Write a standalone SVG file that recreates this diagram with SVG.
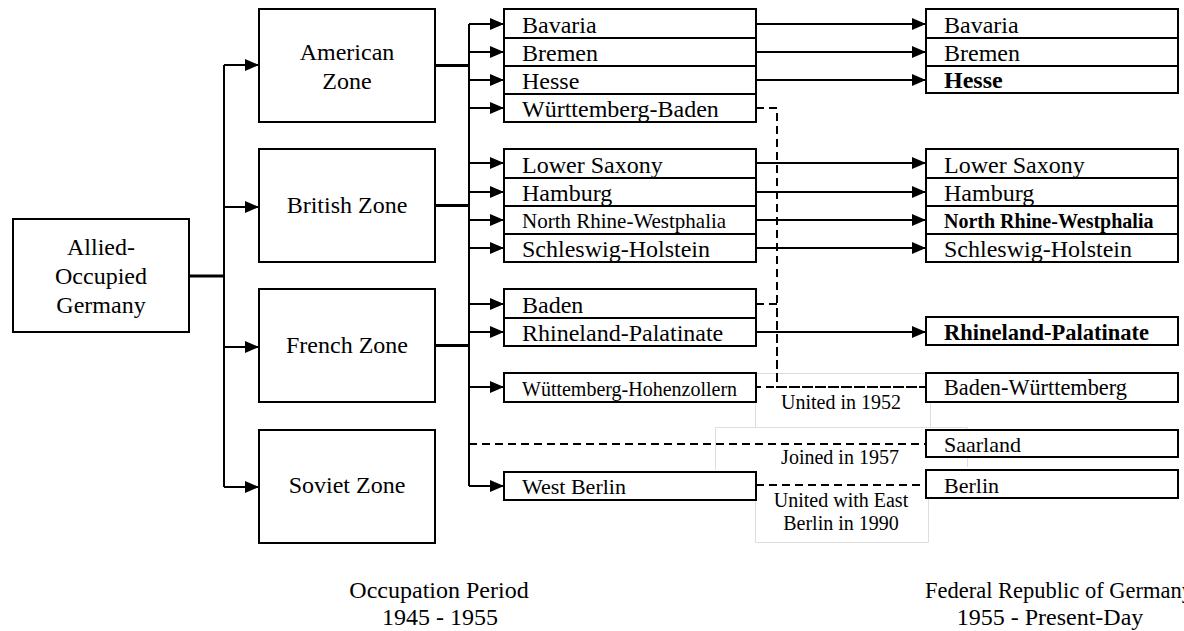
<svg xmlns="http://www.w3.org/2000/svg" width="1184" height="631" viewBox="0 0 1184 631">
<style>
text{font-family:"Liberation Serif","Times New Roman",serif;fill:#000}
.box{fill:#fff;stroke:#000;stroke-width:2}
.lbl{fill:none;stroke:#dedede;stroke-width:1}
.z{font-size:24px;text-anchor:middle}
.s{font-size:24px}
.c{stroke:#000;stroke-width:2;fill:none}
.t{stroke:#000;stroke-width:3;fill:none}
.d{stroke:#000;stroke-width:2;fill:none;stroke-dasharray:8 5}
.a{marker-end:url(#ah)}
.n{font-size:20px;text-anchor:middle}
.f{font-size:24px;text-anchor:middle}
</style>
<defs>
<marker id="ah" markerUnits="userSpaceOnUse" markerWidth="14" markerHeight="12" refX="14" refY="6" orient="auto">
<path d="M0,0 L14,6 L0,12 z" fill="#000"/>
</marker>
</defs>
<rect width="1184" height="631" fill="#fff"/>

<g id="labels">
<path class="lbl" d="M755.5,373.5 H930.5 V427.5 M755.5,402 V427.5"/>
<path class="lbl" d="M715.5,470 V427.5 H967.5 V467"/>
<path class="lbl" d="M755.5,500 V542.5 H928.5 V470"/>
<text class="n" x="841" y="409">United in 1952</text>
<text class="n" x="840" y="464">Joined in 1957</text>
<text class="n" x="841" y="507">United with East</text>
<text class="n" x="841" y="530">Berlin in 1990</text>
</g>

<g id="connectors">
<path class="t" d="M189,276 H224"/>
<path class="c" d="M224,65 V487"/>
<path class="c a" d="M224,65 H259"/>
<path class="c a" d="M224,207 H259"/>
<path class="c a" d="M224,347 H259"/>
<path class="c a" d="M224,487 H259"/>
<path class="t" d="M435,65.5 H469 M435,205.5 H469 M435,345.5 H469"/>
<path class="c" d="M469,24 V486"/>
<path class="c a" d="M469,24 H504"/>
<path class="c a" d="M469,52 H504"/>
<path class="c a" d="M469,80 H504"/>
<path class="c a" d="M469,108 H504"/>
<path class="c a" d="M469,163 H504"/>
<path class="c a" d="M469,192 H504"/>
<path class="c a" d="M469,220 H504"/>
<path class="c a" d="M469,248 H504"/>
<path class="c a" d="M469,304 H504"/>
<path class="c a" d="M469,332 H504"/>
<path class="c a" d="M469,387 H504"/>
<path class="c a" d="M469,486 H504"/>
<path class="c a" d="M756,24 H926"/>
<path class="c a" d="M756,52 H926"/>
<path class="c a" d="M756,80 H926"/>
<path class="c a" d="M756,163 H926"/>
<path class="c a" d="M756,192 H926"/>
<path class="c a" d="M756,220 H926"/>
<path class="c a" d="M756,248 H926"/>
<path class="c a" d="M756,332 H926"/>
<path class="d" d="M756,108 H777 V387 H926"/>
<path class="d" d="M756,304 H777 V387"/>
<path class="d" d="M756,387 H926" stroke-dashoffset="3"/>
<path class="d" d="M469,444 H926"/>
<path class="d" d="M756,485 H926"/>
</g>

<g id="allied">
<rect class="box" x="13" y="219" width="176" height="113"/>
<text class="z" x="101" y="255">Allied-</text>
<text class="z" x="101" y="284">Occupied</text>
<text class="z" x="101" y="313">Germany</text>
</g>
<g id="american-zone">
<rect class="box" x="259" y="9" width="176" height="113"/>
<text class="z" x="347" y="60">American</text>
<text class="z" x="347" y="89">Zone</text>
</g>
<g id="british-zone">
<rect class="box" x="259" y="149" width="176" height="113"/>
<text class="z" x="347" y="213">British Zone</text>
</g>
<g id="french-zone">
<rect class="box" x="259" y="289" width="176" height="113"/>
<text class="z" x="347" y="353">French Zone</text>
</g>
<g id="soviet-zone">
<rect class="box" x="259" y="430" width="176" height="113"/>
<text class="z" x="347" y="493">Soviet Zone</text>
</g>

<g id="l-bavaria"><rect class="box" x="504" y="9" width="252" height="29"/><text class="s" x="522" y="33">Bavaria</text></g>
<g id="l-bremen"><rect class="box" x="504" y="38" width="252" height="28"/><text class="s" x="522" y="61">Bremen</text></g>
<g id="l-hesse"><rect class="box" x="504" y="66" width="252" height="28"/><text class="s" x="522" y="89">Hesse</text></g>
<g id="l-wuerttemberg-baden"><rect class="box" x="504" y="94" width="252" height="28"/><text class="s" x="522" y="117">Württemberg-Baden</text></g>
<g id="l-lower-saxony"><rect class="box" x="504" y="149" width="252" height="29"/><text class="s" x="522" y="173">Lower Saxony</text></g>
<g id="l-hamburg"><rect class="box" x="504" y="178" width="252" height="28"/><text class="s" x="522" y="201">Hamburg</text></g>
<g id="l-nrw"><rect class="box" x="504" y="206" width="252" height="28"/><text x="522" y="228" font-size="21">North Rhine-Westphalia</text></g>
<g id="l-schleswig-holstein"><rect class="box" x="504" y="234" width="252" height="28"/><text class="s" x="522" y="257">Schleswig-Holstein</text></g>
<g id="l-baden"><rect class="box" x="504" y="289" width="252" height="29"/><text class="s" x="522" y="313">Baden</text></g>
<g id="l-rhineland-palatinate"><rect class="box" x="504" y="318" width="252" height="28"/><text class="s" x="522" y="341">Rhineland-Palatinate</text></g>
<g id="l-wuettemberg-hohenzollern"><rect class="box" x="504" y="373" width="252" height="29"/><text x="522" y="396" font-size="20">Wüttemberg-Hohenzollern</text></g>
<g id="l-west-berlin"><rect class="box" x="504" y="472" width="252" height="28"/><text x="522" y="494" font-size="22">West Berlin</text></g>

<g id="r-bavaria"><rect class="box" x="926" y="9" width="252" height="29"/><text class="s" x="944" y="33">Bavaria</text></g>
<g id="r-bremen"><rect class="box" x="926" y="38" width="252" height="28"/><text class="s" x="944" y="61">Bremen</text></g>
<g id="r-hesse"><rect class="box" x="926" y="66" width="252" height="27"/><text class="s" x="944" y="88" font-weight="bold">Hesse</text></g>
<g id="r-lower-saxony"><rect class="box" x="926" y="149" width="252" height="29"/><text class="s" x="944" y="173">Lower Saxony</text></g>
<g id="r-hamburg"><rect class="box" x="926" y="178" width="252" height="28"/><text class="s" x="944" y="201">Hamburg</text></g>
<g id="r-nrw"><rect class="box" x="926" y="206" width="252" height="28"/><text x="944" y="228" font-size="20" font-weight="bold">North Rhine-Westphalia</text></g>
<g id="r-schleswig-holstein"><rect class="box" x="926" y="234" width="252" height="28"/><text class="s" x="944" y="257">Schleswig-Holstein</text></g>
<g id="r-rhineland-palatinate"><rect class="box" x="926" y="317" width="252" height="28"/><text x="944" y="340" font-size="22.5" font-weight="bold">Rhineland-Palatinate</text></g>
<g id="r-baden-wuerttemberg"><rect class="box" x="926" y="373" width="252" height="29"/><text x="944" y="395" font-size="22.3">Baden-Württemberg</text></g>
<g id="r-saarland"><rect class="box" x="926" y="430" width="252" height="27"/><text x="944" y="452" font-size="22">Saarland</text></g>
<g id="r-berlin"><rect class="box" x="926" y="470" width="252" height="28"/><text x="944" y="493" font-size="22">Berlin</text></g>

<g id="captions">
<text class="f" x="439" y="598">Occupation Period</text>
<text class="f" x="440" y="625">1945 - 1955</text>
<text x="925" y="598" font-size="22.5">Federal Republic of Germany</text>
<text class="f" x="1050" y="625">1955 - Present-Day</text>
</g>
</svg>
